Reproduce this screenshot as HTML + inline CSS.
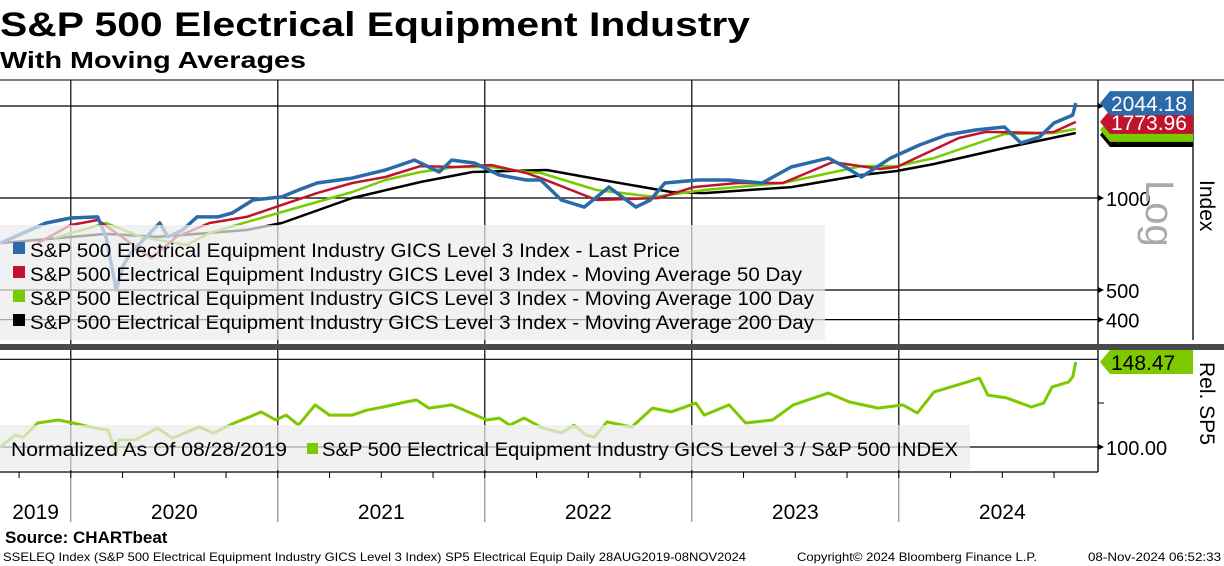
<!DOCTYPE html>
<html><head><meta charset="utf-8"><style>
html,body{margin:0;padding:0;background:#fff;}
svg{display:block;font-family:"Liberation Sans","DejaVu Sans",sans-serif;}
</style></head><body>
<svg id="chart" width="1224" height="566" viewBox="0 0 1224 566" xmlns="http://www.w3.org/2000/svg">
<text x="0" y="36" font-size="34" font-weight="bold" textLength="750" lengthAdjust="spacingAndGlyphs">S&amp;P 500 Electrical Equipment Industry</text>
<text x="0" y="68" font-size="23" font-weight="bold" textLength="306" lengthAdjust="spacingAndGlyphs">With Moving Averages</text>
<g id="grid"></g>
<g id="series"></g>
<g id="axes"></g>
</svg>
<script>
const NS="http://www.w3.org/2000/svg";
const priceDates=[2019.66,2019.88,2020.00,2020.13,2020.17,2020.22,2020.25,2020.29,2020.43,2020.47,2020.54,2020.61,2020.71,2020.78,2020.88,2021.02,2021.10,2021.19,2021.36,2021.52,2021.66,2021.78,2021.84,2021.95,2022.07,2022.20,2022.27,2022.37,2022.48,2022.60,2022.73,2022.80,2022.87,2023.03,2023.18,2023.34,2023.48,2023.58,2023.66,2023.75,2023.82,2023.96,2024.10,2024.23,2024.37,2024.51,2024.59,2024.68,2024.75,2024.84,2024.855];
const priceValues=[712,828,860,867,746,500,595,661,828,746,786,867,867,893,985,1008,1062,1120,1162,1235,1331,1216,1331,1302,1189,1145,1145,985,934,1086,934,985,1120,1145,1145,1120,1263,1311,1351,1254,1171,1351,1491,1607,1669,1708,1513,1583,1759,1868,2044.18];
const ma50Dates=[2019.84,2020.00,2020.13,2020.22,2020.39,2020.51,2020.67,2020.85,2021.02,2021.19,2021.36,2021.52,2021.69,2021.86,2022.03,2022.20,2022.27,2022.54,2022.84,2023.01,2023.22,2023.44,2023.68,2023.91,2023.99,2024.29,2024.42,2024.68,2024.75,2024.855];
const ma50Values=[712,816,847,768,636,746,828,867,949,1038,1120,1171,1272,1263,1282,1207,1162,985,1000,1086,1120,1120,1311,1244,1263,1571,1645,1632,1645,1773.96];
const ma100Dates=[2019.92,2020.17,2020.34,2020.56,2020.67,2020.85,2021.02,2021.19,2021.36,2021.52,2021.69,2021.86,2022.03,2022.20,2022.27,2022.54,2022.82,2023.06,2023.44,2023.82,2023.99,2024.17,2024.51,2024.75,2024.855];
const ma100Values=[740,828,746,702,768,834,900,970,1046,1145,1216,1263,1263,1216,1207,1062,1008,1062,1120,1272,1272,1351,1619,1632,1683];
const ma200Dates=[2019.66,2020.17,2020.42,2020.85,2021.02,2021.36,2021.69,2021.94,2022.30,2022.54,2022.90,2023.06,2023.48,2023.82,2023.99,2024.17,2024.51,2024.855];
const ma200Values=[712,763,746,786,828,1000,1128,1216,1235,1154,1046,1038,1086,1189,1226,1292,1457,1632];
const relDates=[2019.66,2019.73,2019.77,2019.84,2019.94,2020.01,2020.12,2020.18,2020.22,2020.23,2020.31,2020.42,2020.49,2020.62,2020.69,2020.79,2020.86,2020.92,2020.99,2021.04,2021.10,2021.18,2021.25,2021.36,2021.43,2021.51,2021.62,2021.67,2021.73,2021.84,2021.92,2022.01,2022.07,2022.12,2022.19,2022.28,2022.37,2022.43,2022.49,2022.53,2022.59,2022.71,2022.81,2022.90,2023.02,2023.06,2023.18,2023.26,2023.39,2023.49,2023.66,2023.76,2023.90,2024.02,2024.09,2024.17,2024.33,2024.39,2024.43,2024.52,2024.64,2024.70,2024.74,2024.82,2024.84,2024.855];
const relValues=[100,106.8,105.5,113.7,115.4,113.7,110.8,109.7,96.6,104,104,110.8,105,111.4,108,113.7,117,120,115.4,118.2,112.5,124,118.2,118.2,121,122.8,125.7,126.8,122.2,124,120,115.4,116.5,112.5,116.5,110.8,108,112.5,106.8,105.7,114.3,111.4,122.2,120,125,118.2,124,113.7,115.4,124,130.8,125.7,122.2,124,119.4,131.4,137,139.3,129.6,128,122.8,125,134.2,137,140,148.47];
const topTicks=[2000,1000,500,400];
const topTickLabels=["","1000","500","400"];
const yearStarts=[2020,2021,2022,2023,2024];
const yearLabels=["2019","2020","2021","2022","2023","2024"];
const yearLabelDates=[2019.83,2020.5,2021.5,2022.5,2023.5,2024.5];

const T0=2019.658, PXY=207;
function xS(t){return (t-T0)*PXY;}
function yTop(v){return 198-305.6*Math.log10(v/1000);}
function yBot(v){return 447-(v-100)*1.754;}
function mk(tag,attrs,parent){const e=document.createElementNS(NS,tag);for(const k in attrs)e.setAttribute(k,attrs[k]);parent.appendChild(e);return e;}
const grid=document.getElementById('grid'),ser=document.getElementById('series'),axes=document.getElementById('axes');

// backgrounds / frame
let r=mk('line',{x1:0,y1:80,x2:1224,y2:80,stroke:'#000','stroke-width':1},grid);


// horizontal gridlines top
topTicks.forEach((v,i)=>{
 const y=yTop(v);
 const l=mk('line',{x1:0,y1:y,x2:1098,y2:y,stroke:'#000','stroke-width':1.2},grid);
 
 
 const a=mk('path',{d:`M1098 ${y-3}L1104 ${y}L1098 ${y+3}Z`,fill:'#000'},axes);
 
 
 if(topTickLabels[i]){
  const t=mk('text',{x:1106,y:y+8,'font-size':20},axes);t.textContent=topTickLabels[i];
  
  
 }
});
// bottom panel gridlines
[150,100].forEach(v=>{
 const y=yBot(v);
 const l=mk('line',{x1:0,y1:y,x2:1098,y2:y,stroke:'#000','stroke-width':1.2},grid);
 
 
});
// vertical year lines
yearStarts.forEach(yr=>{
 const x=xS(yr);
 const l=mk('line',{x1:x,y1:80,x2:x,y2:472,stroke:'#000','stroke-width':1.2},grid);
 
 
 const l2=mk('line',{x1:x,y1:472,x2:x,y2:522,stroke:'#777','stroke-width':1},grid);
 
 
});
// quarterly ticks
for(let q=2019.75;q<2024.9;q+=0.25){
 const x=xS(q);
 const l=mk('line',{x1:x,y1:472,x2:x,y2:478,stroke:'#000','stroke-width':1},axes);
 
 
}
function line(dates,vals,ys,color,w,name){
 const d=dates.map((t,i)=>(i?'L':'M')+xS(t).toFixed(1)+' '+ys(vals[i]).toFixed(1)).join('');
 const p=mk('path',{d:d,fill:'none',stroke:color,'stroke-width':w,'stroke-linejoin':'round'},ser);
 
 
}
line(ma200Dates,ma200Values,yTop,'#000',2.5,'ma200-line');
line(ma100Dates,ma100Values,yTop,'#77cc00',2.5,'ma100-line');
line(ma50Dates,ma50Values,yTop,'#c0142c',2.5,'ma50-line');
line(priceDates,priceValues,yTop,'#2a6aa8',3.5,'price-line');
line(relDates,relValues,yBot,'#7ec800',3,'relative-line');

// legends (semi-transparent)
let lg=mk('rect',{x:0,y:225,width:825,height:115,fill:'rgba(236,236,236,0.72)'},axes);


const legItems=[['#2a6aa8','Last Price'],['#c0142c','Moving Average 50 Day'],['#77cc00','Moving Average 100 Day'],['#000','Moving Average 200 Day']];
const legLens=[650,772,784,784];
legItems.forEach((it,i)=>{
 const y=250+i*24;
 const s=mk('rect',{x:13,y:y-8,width:12,height:12,fill:it[0]},axes);
 
 
 const t=mk('text',{x:30,y:y+7,'font-size':19,textLength:legLens[i],lengthAdjust:'spacingAndGlyphs'},axes);
 t.textContent='S&P 500 Electrical Equipment Industry GICS Level 3 Index - '+it[1];
 
 
});
let lg2=mk('rect',{x:0,y:425,width:970,height:45,fill:'rgba(236,236,236,0.72)'},axes);


let t2=mk('text',{x:11,y:456,'font-size':19,textLength:276,lengthAdjust:'spacingAndGlyphs'},axes);t2.textContent='Normalized As Of 08/28/2019';


let s2=mk('rect',{x:307,y:443,width:11,height:11,fill:'#7ec800'},axes);


let t3=mk('text',{x:322,y:456,'font-size':19,textLength:636,lengthAdjust:'spacingAndGlyphs'},axes);t3.textContent='S&P 500 Electrical Equipment Industry GICS Level 3 / S&P 500 INDEX';



// panel separator
let sep=mk('rect',{x:0,y:344,width:1224,height:6,fill:'#4a4a4a'},axes);


// right axis lines
[[1098,80,344],[1098,350,472],[1193,80,340]].forEach(a=>{
 const l=mk('line',{x1:a[0],y1:a[1],x2:a[0],y2:a[2],stroke:'#000','stroke-width':1.3},axes);
 
 
});
let bl=mk('line',{x1:0,y1:472,x2:1098,y2:472,stroke:'#000','stroke-width':1.3},axes);


let tk=mk('line',{x1:1098,y1:403,x2:1104,y2:403,stroke:'#000','stroke-width':1},axes);


let ra=mk('path',{d:'M1098 444L1104 447L1098 450Z',fill:'#000'},axes);


let rt=mk('text',{x:1106,y:455,'font-size':20},axes);rt.textContent='100.00';



// value tags
function tag(y,fill,txt,tc,name){
 const p=mk('path',{d:`M1100 ${y}L1110 ${y-12}L1193 ${y-12}L1193 ${y+12}L1110 ${y+12}Z`,fill:fill},axes);
 
 
 const t=mk('text',{x:1111,y:y+8,'font-size':21,fill:tc},axes);t.textContent=txt;
 
 
}
tag(yTop(ma200Values[ma200Values.length-1])+2,'#000','','#fff','ma200');
tag(yTop(ma100Values[ma100Values.length-1])+1,'#77cc00','','#000','ma100');
tag(yTop(ma50Values[ma50Values.length-1]),'#c0142c',ma50Values[ma50Values.length-1].toFixed(2),'#fff','ma50');
tag(yTop(priceValues[priceValues.length-1]),'#2a6aa8',priceValues[priceValues.length-1].toFixed(2),'#fff','price');
tag(yBot(relValues[relValues.length-1]),'#7ec800',relValues[relValues.length-1].toFixed(2),'#000','rel');

// axis titles
let lgT=mk('text',{x:0,y:0,'font-size':40,fill:'#aaa',transform:'translate(1146,180) rotate(90)'},axes);lgT.textContent='Log';


let ix=mk('text',{x:0,y:0,'font-size':21,transform:'translate(1200,180) rotate(90)'},axes);ix.textContent='Index';


let rs=mk('text',{x:0,y:0,'font-size':21,transform:'translate(1200,362) rotate(90)'},axes);rs.textContent='Rel. SP5';


yearLabels.forEach((y,i)=>{
 const t=mk('text',{x:xS(yearLabelDates[i]),y:519,'font-size':21,'text-anchor':'middle'},axes);t.textContent=y;
 
 
});
let src=mk('text',{x:5,y:543,'font-size':17,'font-weight':'bold'},axes);src.textContent='Source: CHARTbeat';


[[3,'SSELEQ Index (S&P 500 Electrical Equipment Industry GICS Level 3 Index) SP5 Electrical Equip  Daily 28AUG2019-08NOV2024',743],[797,'Copyright© 2024 Bloomberg Finance L.P.',240],[1088,'08-Nov-2024 06:52:33',133]].forEach(f=>{
 const t=mk('text',{x:f[0],y:561,'font-size':12,textLength:f[2],lengthAdjust:'spacingAndGlyphs'},axes);t.textContent=f[1];
 
 
});
</script>
</body></html>
